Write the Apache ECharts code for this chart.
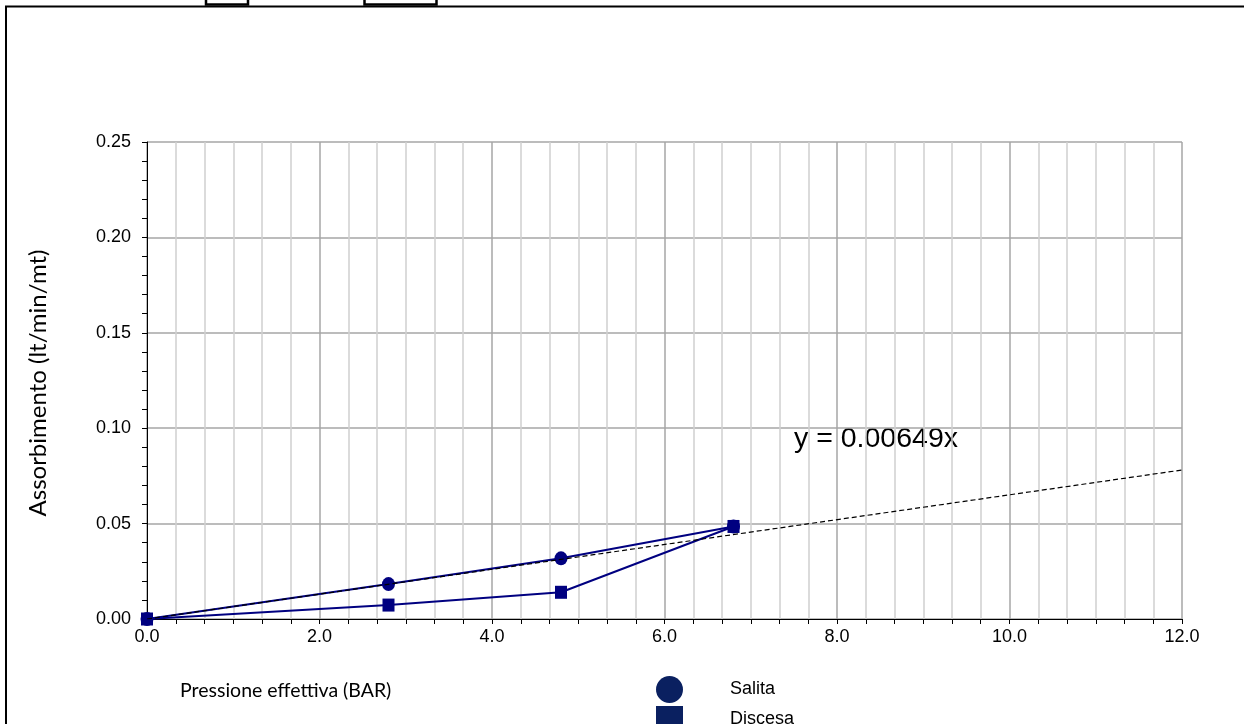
<!DOCTYPE html>
<html>
<head>
<meta charset="utf-8">
<style>
html,body{margin:0;padding:0;background:#fff;}
#chart{width:1244px;height:724px;}
</style>
<script src="https://cdn.jsdelivr.net/npm/echarts@6/dist/echarts.min.js"></script>
</head>
<body>
<div id="chart"></div>
<script>
// Data
const salitaX = [0, 2.8, 4.8, 6.8];
const salitaY = [0, 0.0183, 0.0318, 0.0485];
const discesaX = [6.8, 4.8, 2.8, 0];
const discesaY = [0.0485, 0.0140, 0.0073, 0];
const trendX = [0, 12];
const trendY = [0, 0.0781];
const seriesNames = ['Salita', 'Discesa'];
const xTitle = 'Pressione effettiva (BAR)';
const yTitle = 'Assorbimento (lt/min/mt)';
const equation = 'y = 0.00649x';

const pairs = (xs, ys) => xs.map((x, i) => [x, ys[i]]);

const chart = echarts.init(document.getElementById('chart'), null, {renderer: 'canvas'});
const navy = '#000080';
const legendNavy = '#0a2060';
const tickFont = 'Liberation Sans, Arial, sans-serif';
const legendText = {fontFamily: tickFont, fontSize: 18, color: '#000', padding: [0, 0, 0, 42]};

chart.setOption({
  animation: false,
  backgroundColor: '#fff',
  grid: {left: 147, top: 142, width: 1035, height: 477, containLabel: false},
  xAxis: {
    type: 'value', min: 0, max: 12, interval: 2,
    axisLine: {show: true, onZero: false, lineStyle: {color: '#000', width: 1}},
    axisTick: {show: true, length: 5, lineStyle: {color: '#000'}},
    minorTick: {show: true, splitNumber: 6, length: 5, lineStyle: {color: '#000'}},
    splitLine: {show: true, lineStyle: {color: '#a6a6a6', width: 1.5}},
    minorSplitLine: {show: true, lineStyle: {color: '#d0d0d0', width: 1.5}},
    axisLabel: {fontFamily: tickFont, fontSize: 18, color: '#000', margin: 9,
      formatter: v => v.toFixed(1)}
  },
  yAxis: {
    type: 'value', min: 0, max: 0.25, interval: 0.05,
    axisLine: {show: true, onZero: false, lineStyle: {color: '#000', width: 1}},
    axisTick: {show: true, length: 5, lineStyle: {color: '#000'}},
    minorTick: {show: true, splitNumber: 5, length: 5, lineStyle: {color: '#000'}},
    splitLine: {show: true, lineStyle: {color: '#a6a6a6', width: 1.5}},
    minorSplitLine: {show: false},
    axisLabel: {fontFamily: tickFont, fontSize: 18, color: '#000', margin: 16,
      formatter: v => v.toFixed(2)}
  },
  legend: [
    {
      orient: 'vertical', left: 651, top: 671, itemGap: 3,
      itemWidth: 27, itemHeight: 27, textStyle: legendText,
      data: [{name: seriesNames[0], icon: 'circle', itemStyle: {color: legendNavy}}]
    },
    {
      orient: 'vertical', left: 651, top: 701, itemGap: 3,
      itemWidth: 27, itemHeight: 27, textStyle: legendText,
      data: [{name: seriesNames[1], icon: 'rect', itemStyle: {color: legendNavy}}]
    }
  ],
  graphic: [
    {type: 'rect', shape: {x: 6, y: 6.5, width: 1300, height: 800},
      style: {fill: 'none', stroke: '#000', lineWidth: 2}, silent: true, z: -1},
    {type: 'rect', shape: {x: 206, y: -20, width: 42, height: 24.5},
      style: {fill: 'none', stroke: '#000', lineWidth: 2.5}, silent: true},
    {type: 'rect', shape: {x: 364.5, y: -20, width: 72, height: 24.5},
      style: {fill: 'none', stroke: '#000', lineWidth: 2.5}, silent: true},
    {type: 'text', left: 180, top: 681,
      style: {text: xTitle, font: '19.5px Lato, "Open Sans", sans-serif', fill: '#000'}},
    {type: 'text', x: 38, y: 383, rotation: Math.PI / 2,
      style: {text: yTitle, font: '24px Lato, "Open Sans", sans-serif', fill: '#000',
        textAlign: 'center', textVerticalAlign: 'middle'}},
    {type: 'text', left: 794, top: 425,
      style: {text: equation, font: '28.5px "Liberation Sans", Arial, sans-serif', fill: '#000'}}
  ],
  series: [
    {
      name: seriesNames[0], type: 'line', data: pairs(salitaX, salitaY),
      symbol: 'circle', symbolSize: [13, 14], showSymbol: true,
      lineStyle: {color: navy, width: 2}, itemStyle: {color: navy}, z: 3
    },
    {
      name: seriesNames[1], type: 'line', data: pairs(discesaX, discesaY),
      symbol: 'rect', symbolSize: [12, 13], showSymbol: true,
      lineStyle: {color: navy, width: 2}, itemStyle: {color: navy}, z: 3
    },
    {
      name: 'trend', type: 'line', data: pairs(trendX, trendY),
      symbol: 'none', lineStyle: {color: '#000', width: 1.2, type: [5, 3]}, z: 4,
      silent: true
    }
  ]
});
</script>
</body>
</html>
